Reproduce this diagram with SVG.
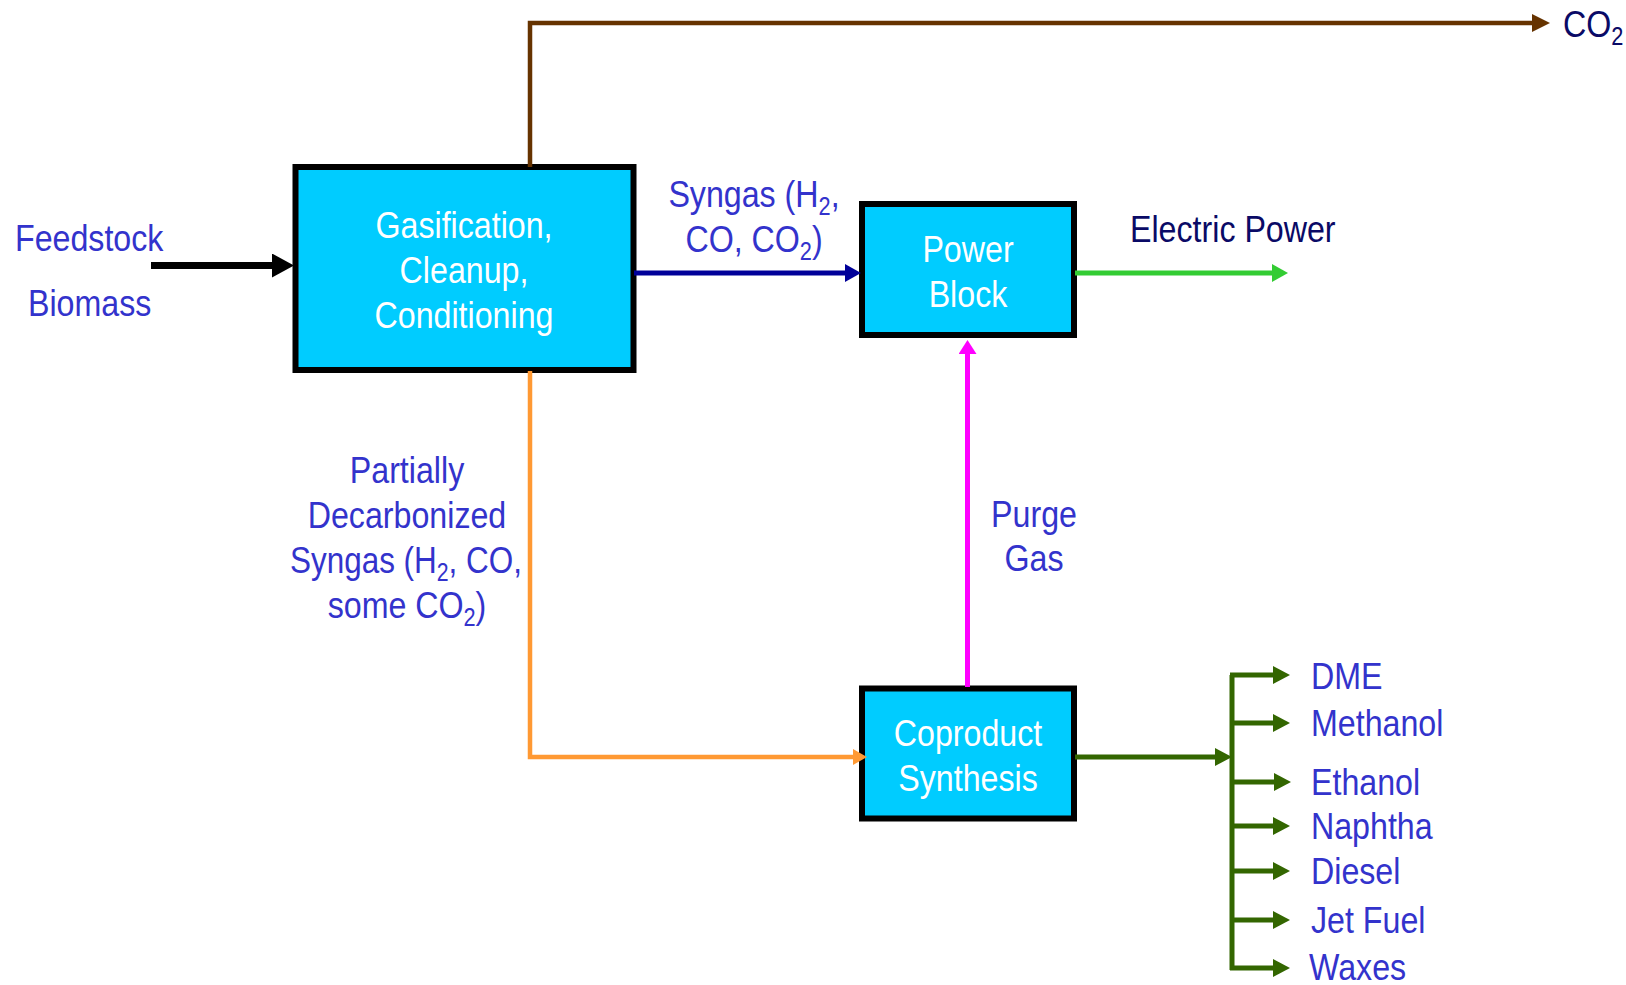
<svg xmlns="http://www.w3.org/2000/svg" width="1626" height="985" viewBox="0 0 1626 985">
<style>
text{font-family:"Liberation Sans",Arial,sans-serif;font-size:37px}
.lbl{fill:#3333cc}
.dark{fill:#0a0a66}
.box{fill:#00ccff;stroke:#000;stroke-width:6}
.in{fill:#fff;text-anchor:middle}
.mid{text-anchor:middle}
.sub{font-size:25px}
.c{fill:none}
</style>
<defs>
<marker id="mBlack" markerUnits="userSpaceOnUse" markerWidth="22" markerHeight="24" refX="1" refY="12" orient="auto"><path d="M0,0 L22,12 L0,24 z" fill="#000"/></marker>
<marker id="mBrown" markerUnits="userSpaceOnUse" markerWidth="18" markerHeight="18" refX="1" refY="9" orient="auto"><path d="M0,0 L18,9 L0,18 z" fill="#663300"/></marker>
<marker id="mBlue" markerUnits="userSpaceOnUse" markerWidth="16" markerHeight="18" refX="1" refY="9" orient="auto"><path d="M0,0 L16,9 L0,18 z" fill="#000099"/></marker>
<marker id="mGreen" markerUnits="userSpaceOnUse" markerWidth="16" markerHeight="18" refX="1" refY="9" orient="auto"><path d="M0,0 L16,9 L0,18 z" fill="#33cc33"/></marker>
<marker id="mOrange" markerUnits="userSpaceOnUse" markerWidth="14" markerHeight="16" refX="1" refY="8" orient="auto"><path d="M0,0 L14,8 L0,16 z" fill="#ff9933"/></marker>
<marker id="mMag" markerUnits="userSpaceOnUse" markerWidth="14" markerHeight="18" refX="1" refY="9" orient="auto"><path d="M0,0 L14,9 L0,18 z" fill="#ff00ff"/></marker>
<marker id="mDk" markerUnits="userSpaceOnUse" markerWidth="17" markerHeight="18" refX="1" refY="9" orient="auto"><path d="M0,0 L17,9 L0,18 z" fill="#336600"/></marker>
</defs>
<rect width="1626" height="985" fill="#fff"/>

<g id="gasification">
<rect class="box" x="295.5" y="167" width="338" height="203"/>
<text class="in" transform="translate(464,238) scale(0.87,1)">Gasification,</text>
<text class="in" transform="translate(464,283) scale(0.87,1)">Cleanup,</text>
<text class="in" transform="translate(464,328) scale(0.87,1)">Conditioning</text>
</g>
<g id="power-block">
<rect class="box" x="862" y="204" width="212" height="131"/>
<text class="in" transform="translate(968,262) scale(0.87,1)">Power</text>
<text class="in" transform="translate(968,307) scale(0.87,1)">Block</text>
</g>
<g id="coproduct-synthesis">
<rect class="box" x="862" y="688.5" width="212" height="130"/>
<text class="in" transform="translate(968,746) scale(0.87,1)">Coproduct</text>
<text class="in" transform="translate(968,791) scale(0.87,1)">Synthesis</text>
</g>

<g id="connectors" class="c">
<path d="M151,265.5 H273" stroke="#000" stroke-width="7" marker-end="url(#mBlack)"/>
<path d="M530,167 V23 H1533" stroke="#663300" stroke-width="4.5" fill="none" marker-end="url(#mBrown)"/>
<path d="M634,273 H846" stroke="#000099" stroke-width="5" marker-end="url(#mBlue)"/>
<path d="M1075,273 H1273" stroke="#33cc33" stroke-width="5" marker-end="url(#mGreen)"/>
<path d="M530,371 V757 H854" stroke="#ff9933" stroke-width="4.5" fill="none" marker-end="url(#mOrange)"/>
<path d="M967.5,687 V353" stroke="#ff00ff" stroke-width="5" marker-end="url(#mMag)"/>
<path d="M1075,757 H1216" stroke="#336600" stroke-width="5" marker-end="url(#mDk)"/>
<path d="M1232,675 V970" stroke="#336600" stroke-width="5"/>
<path d="M1230,675 H1274" stroke="#336600" stroke-width="5" marker-end="url(#mDk)"/>
<path d="M1232,723 H1274" stroke="#336600" stroke-width="5" marker-end="url(#mDk)"/>
<path d="M1232,782 H1275" stroke="#336600" stroke-width="5" marker-end="url(#mDk)"/>
<path d="M1232,826 H1274" stroke="#336600" stroke-width="5" marker-end="url(#mDk)"/>
<path d="M1232,871 H1274" stroke="#336600" stroke-width="5" marker-end="url(#mDk)"/>
<path d="M1232,920 H1274" stroke="#336600" stroke-width="5" marker-end="url(#mDk)"/>
<path d="M1230,968 H1274" stroke="#336600" stroke-width="5" marker-end="url(#mDk)"/>
</g>

<g id="labels">
<text class="lbl" transform="translate(15,251) scale(0.87,1)">Feedstock</text>
<text class="lbl" transform="translate(28,316) scale(0.87,1)">Biomass</text>
<text class="dark" transform="translate(1563,37) scale(0.87,1)">CO<tspan class="sub" dy="8">2</tspan></text>
<text class="lbl mid" transform="translate(754,207) scale(0.87,1)">Syngas (H<tspan class="sub" dy="8">2</tspan><tspan dy="-8">,</tspan></text>
<text class="lbl mid" transform="translate(754,252) scale(0.87,1)">CO, CO<tspan class="sub" dy="8">2</tspan><tspan dy="-8">)</tspan></text>
<text class="dark" transform="translate(1130,242) scale(0.87,1)">Electric Power</text>
<text class="lbl mid" transform="translate(407,483) scale(0.87,1)">Partially</text>
<text class="lbl mid" transform="translate(407,528) scale(0.87,1)">Decarbonized</text>
<text class="lbl mid" transform="translate(406,573) scale(0.85,1)">Syngas (H<tspan class="sub" dy="8">2</tspan><tspan dy="-8">, CO,</tspan></text>
<text class="lbl mid" transform="translate(407,618) scale(0.87,1)">some CO<tspan class="sub" dy="8">2</tspan><tspan dy="-8">)</tspan></text>
<text class="lbl mid" transform="translate(1034,527) scale(0.87,1)">Purge</text>
<text class="lbl mid" transform="translate(1034,571) scale(0.87,1)">Gas</text>
<text class="lbl" transform="translate(1311,689) scale(0.87,1)">DME</text>
<text class="lbl" transform="translate(1311,736) scale(0.87,1)">Methanol</text>
<text class="lbl" transform="translate(1311,795) scale(0.87,1)">Ethanol</text>
<text class="lbl" transform="translate(1311,839) scale(0.87,1)">Naphtha</text>
<text class="lbl" transform="translate(1311,884) scale(0.87,1)">Diesel</text>
<text class="lbl" transform="translate(1311,933) scale(0.87,1)">Jet Fuel</text>
<text class="lbl" transform="translate(1309,980) scale(0.87,1)">Waxes</text>
</g>
</svg>
